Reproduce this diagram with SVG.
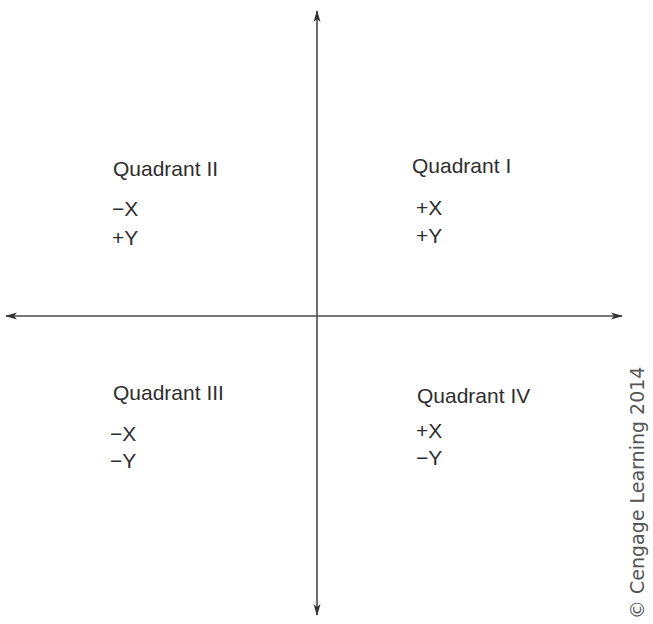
<svg xmlns="http://www.w3.org/2000/svg" width="653" height="624" viewBox="0 0 653 624">
<style>
.t{font-family:"Liberation Sans",Arial,sans-serif;font-size:21px;fill:#2e2e2e}
.ax{stroke:#4a4a4a;stroke-width:1.6;fill:none}
.c{font-family:"DejaVu Sans","Noto Sans",sans-serif;font-size:19px;fill:#555}
</style>
<defs>
<marker id="ah" viewBox="0 0 12 8" refX="11" refY="4" markerWidth="12" markerHeight="8" markerUnits="userSpaceOnUse" orient="auto-start-reverse">
<path d="M0,0.5 L12,4 L0,7.5 L3,4 Z" fill="#333"/>
</marker>
</defs>
<rect width="653" height="624" fill="#fff"/>
<g id="connectors">
<line class="ax" x1="6" y1="316" x2="622" y2="316" marker-start="url(#ah)" marker-end="url(#ah)"/>
<line class="ax" x1="317" y1="11" x2="317" y2="615" marker-start="url(#ah)" marker-end="url(#ah)"/>
</g>
<g id="q2"><text class="t" x="113" y="176">Quadrant II</text><text class="t" x="112" y="216">−X</text><text class="t" x="112" y="245">+Y</text></g>
<g id="q1"><text class="t" x="412" y="173">Quadrant I</text><text class="t" x="416" y="215">+X</text><text class="t" x="416" y="243">+Y</text></g>
<g id="q3"><text class="t" x="113" y="400">Quadrant III</text><text class="t" x="110" y="441">−X</text><text class="t" x="110" y="468">−Y</text></g>
<g id="q4"><text class="t" x="417" y="403">Quadrant IV</text><text class="t" x="416" y="438">+X</text><text class="t" x="416" y="465">−Y</text></g>
<text class="c" transform="translate(644,619) rotate(-90)">© Cengage Learning 2014</text>
</svg>
